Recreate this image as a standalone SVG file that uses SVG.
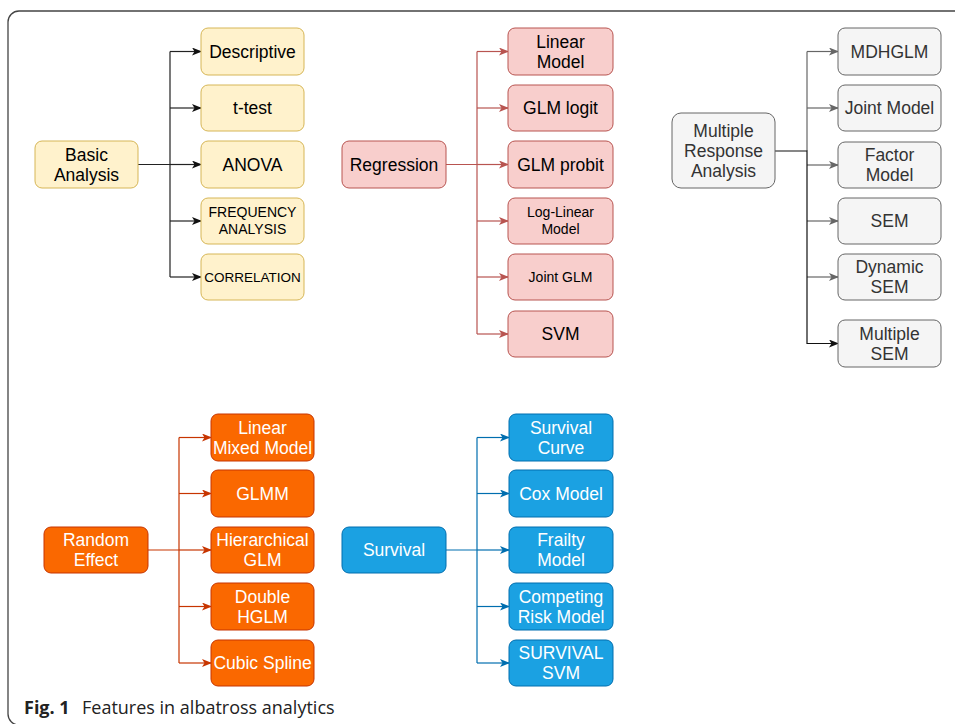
<svg xmlns="http://www.w3.org/2000/svg" width="955" height="724" viewBox="0 0 955 724">
<defs>
<style>
text{font-family:"Liberation Sans",Arial,sans-serif;font-size:17.5px;text-anchor:middle}
.s14{font-size:14px}
.s13{font-size:13.5px}
.y rect{fill:#fff2cc;stroke:#d6b656;stroke-width:1}
.r rect{fill:#f8cecc;stroke:#b85450;stroke-width:1}
.g rect{fill:#f5f5f5;stroke:#666666;stroke-width:1}
.g text{fill:#333333}
.o rect{fill:#fa6800;stroke:#c73500;stroke-width:1}
.o text{fill:#ffffff}
.b rect{fill:#1ba1e2;stroke:#006eaf;stroke-width:1}
.b text{fill:#ffffff}
.c{fill:none;stroke-width:1.2}
.cap{font-family:"Open Sans","Liberation Sans",sans-serif;font-size:18px;text-anchor:start;fill:#222}
</style>
<marker id="mk" viewBox="0 0 10 8" refX="9" refY="4" markerWidth="10" markerHeight="8" markerUnits="userSpaceOnUse" orient="auto"><path d="M0,0 L10,4 L0,8 L2.5,4 z" fill="#111"/></marker>
<marker id="mr" viewBox="0 0 10 8" refX="9" refY="4" markerWidth="10" markerHeight="8" markerUnits="userSpaceOnUse" orient="auto"><path d="M0,0 L10,4 L0,8 L2.5,4 z" fill="#b85450"/></marker>
<marker id="mg" viewBox="0 0 10 8" refX="9" refY="4" markerWidth="10" markerHeight="8" markerUnits="userSpaceOnUse" orient="auto"><path d="M0,0 L10,4 L0,8 L2.5,4 z" fill="#666666"/></marker>
<marker id="mo" viewBox="0 0 10 8" refX="9" refY="4" markerWidth="10" markerHeight="8" markerUnits="userSpaceOnUse" orient="auto"><path d="M0,0 L10,4 L0,8 L2.5,4 z" fill="#c73500"/></marker>
<marker id="mb" viewBox="0 0 10 8" refX="9" refY="4" markerWidth="10" markerHeight="8" markerUnits="userSpaceOnUse" orient="auto"><path d="M0,0 L10,4 L0,8 L2.5,4 z" fill="#006eaf"/></marker>
</defs>
<rect x="0" y="0" width="955" height="724" fill="#ffffff"/>
<rect x="8" y="11" width="970" height="714" rx="11" fill="none" stroke="#444" stroke-width="1.3"/>

<g id="connectors">
<g stroke="#222" class="c">
<path d="M138,164.5 H170 M170,51.5 V277"/>
<path d="M170,51.5 H201" marker-end="url(#mk)"/>
<path d="M170,108 H201" marker-end="url(#mk)"/>
<path d="M170,164.5 H201" marker-end="url(#mk)"/>
<path d="M170,221 H201" marker-end="url(#mk)"/>
<path d="M170,277 H201" marker-end="url(#mk)"/>
</g>
<g stroke="#b85450" class="c">
<path d="M446,164.5 H477 M477,51.5 V334"/>
<path d="M477,51.5 H508" marker-end="url(#mr)"/>
<path d="M477,108 H508" marker-end="url(#mr)"/>
<path d="M477,164.5 H508" marker-end="url(#mr)"/>
<path d="M477,221 H508" marker-end="url(#mr)"/>
<path d="M477,277 H508" marker-end="url(#mr)"/>
<path d="M477,334 H508" marker-end="url(#mr)"/>
</g>
<g stroke="#666666" class="c">
<path d="M807,51.5 V151"/>
<path d="M807,51.5 H838" marker-end="url(#mg)"/>
<path d="M807,108 H838" marker-end="url(#mg)"/>
<path d="M807,165 H838" marker-end="url(#mg)"/>
<path d="M807,221 H838" marker-end="url(#mg)"/>
<path d="M807,277 H838" marker-end="url(#mg)"/>
</g>
<g stroke="#111" class="c">
<path d="M775,151 H807 V343.5 H838" marker-end="url(#mk)"/>
</g>
<g stroke="#c73500" class="c">
<path d="M148,550 H179 M179,437.5 V663"/>
<path d="M179,437.5 H211" marker-end="url(#mo)"/>
<path d="M179,493.5 H211" marker-end="url(#mo)"/>
<path d="M179,550 H211" marker-end="url(#mo)"/>
<path d="M179,606.5 H211" marker-end="url(#mo)"/>
<path d="M179,663 H211" marker-end="url(#mo)"/>
</g>
<g stroke="#006eaf" class="c">
<path d="M446,550 H477 M477,437.5 V663"/>
<path d="M477,437.5 H509" marker-end="url(#mb)"/>
<path d="M477,493.5 H509" marker-end="url(#mb)"/>
<path d="M477,550 H509" marker-end="url(#mb)"/>
<path d="M477,606.5 H509" marker-end="url(#mb)"/>
<path d="M477,663 H509" marker-end="url(#mb)"/>
</g>
</g>

<g class="y">
<g id="basic-analysis"><rect x="35" y="141" width="103" height="47" rx="7"/><text x="86.5" y="160.5">Basic</text><text x="86.5" y="180.5">Analysis</text></g>
<g id="descriptive"><rect x="201" y="28" width="103" height="47" rx="7"/><text x="252.5" y="57.5">Descriptive</text></g>
<g id="t-test"><rect x="201" y="85" width="103" height="46" rx="7"/><text x="252.5" y="114">t-test</text></g>
<g id="anova"><rect x="201" y="141" width="103" height="47" rx="7"/><text x="252.5" y="170.5">ANOVA</text></g>
<g id="frequency-analysis"><rect x="201" y="198" width="103" height="46" rx="7"/><text class="s14" x="252.5" y="217">FREQUENCY</text><text class="s14" x="252.5" y="234">ANALYSIS</text></g>
<g id="correlation"><rect x="201" y="254" width="103" height="46" rx="7"/><text class="s13" x="252.5" y="282">CORRELATION</text></g>
</g>

<g class="r">
<g id="regression"><rect x="342" y="141" width="104" height="47" rx="7"/><text x="394" y="170.5">Regression</text></g>
<g id="linear-model"><rect x="508" y="28" width="105" height="47" rx="7"/><text x="560.5" y="47.5">Linear</text><text x="560.5" y="67.5">Model</text></g>
<g id="glm-logit"><rect x="508" y="85" width="105" height="46" rx="7"/><text x="560.5" y="114">GLM logit</text></g>
<g id="glm-probit"><rect x="508" y="141" width="105" height="47" rx="7"/><text x="560.5" y="170.5">GLM probit</text></g>
<g id="log-linear-model"><rect x="508" y="198" width="105" height="46" rx="7"/><text class="s14" x="560.5" y="217">Log-Linear</text><text class="s14" x="560.5" y="234">Model</text></g>
<g id="joint-glm"><rect x="508" y="254" width="105" height="46" rx="7"/><text class="s14" x="560.5" y="282">Joint GLM</text></g>
<g id="svm"><rect x="508" y="311" width="105" height="46" rx="7"/><text x="560.5" y="340">SVM</text></g>
</g>

<g class="g">
<g id="multiple-response-analysis"><rect x="672" y="113" width="103" height="75" rx="9"/><text x="723.5" y="136.5">Multiple</text><text x="723.5" y="156.5">Response</text><text x="723.5" y="176.5">Analysis</text></g>
<g id="mdhglm"><rect x="838" y="28" width="103" height="47" rx="7"/><text x="889.5" y="57.5">MDHGLM</text></g>
<g id="joint-model"><rect x="838" y="85" width="103" height="46" rx="7"/><text x="889.5" y="114">Joint Model</text></g>
<g id="factor-model"><rect x="838" y="142" width="103" height="46" rx="7"/><text x="889.5" y="161">Factor</text><text x="889.5" y="181">Model</text></g>
<g id="sem"><rect x="838" y="198" width="103" height="46" rx="7"/><text x="889.5" y="227">SEM</text></g>
<g id="dynamic-sem"><rect x="838" y="254" width="103" height="46" rx="7"/><text x="889.5" y="273">Dynamic</text><text x="889.5" y="293">SEM</text></g>
<g id="multiple-sem"><rect x="838" y="320" width="103" height="47" rx="7"/><text x="889.5" y="339.5">Multiple</text><text x="889.5" y="359.5">SEM</text></g>
</g>

<g class="o">
<g id="random-effect"><rect x="44" y="527" width="104" height="46" rx="7"/><text x="96" y="546">Random</text><text x="96" y="566">Effect</text></g>
<g id="linear-mixed-model"><rect x="211" y="414" width="103" height="47" rx="7"/><text x="262.5" y="433.5">Linear</text><text x="262.5" y="453.5">Mixed Model</text></g>
<g id="glmm"><rect x="211" y="470" width="103" height="47" rx="7"/><text x="262.5" y="499.5">GLMM</text></g>
<g id="hierarchical-glm"><rect x="211" y="527" width="103" height="46" rx="7"/><text x="262.5" y="546">Hierarchical</text><text x="262.5" y="566">GLM</text></g>
<g id="double-hglm"><rect x="211" y="583" width="103" height="47" rx="7"/><text x="262.5" y="602.5">Double</text><text x="262.5" y="622.5">HGLM</text></g>
<g id="cubic-spline"><rect x="211" y="640" width="103" height="46" rx="7"/><text x="262.5" y="669">Cubic Spline</text></g>
</g>

<g class="b">
<g id="survival"><rect x="342" y="527" width="104" height="46" rx="7"/><text x="394" y="556">Survival</text></g>
<g id="survival-curve"><rect x="509" y="414" width="104" height="47" rx="7"/><text x="561" y="433.5">Survival</text><text x="561" y="453.5">Curve</text></g>
<g id="cox-model"><rect x="509" y="470" width="104" height="47" rx="7"/><text x="561" y="499.5">Cox Model</text></g>
<g id="frailty-model"><rect x="509" y="527" width="104" height="46" rx="7"/><text x="561" y="546">Frailty</text><text x="561" y="566">Model</text></g>
<g id="competing-risk-model"><rect x="509" y="583" width="104" height="47" rx="7"/><text x="561" y="602.5">Competing</text><text x="561" y="622.5">Risk Model</text></g>
<g id="survival-svm"><rect x="509" y="640" width="104" height="46" rx="7"/><text x="561" y="659">SURVIVAL</text><text x="561" y="679">SVM</text></g>
</g>

<text class="cap" x="24" y="714"><tspan font-weight="bold">Fig. 1</tspan><tspan x="82">Features in albatross analytics</tspan></text>
</svg>
